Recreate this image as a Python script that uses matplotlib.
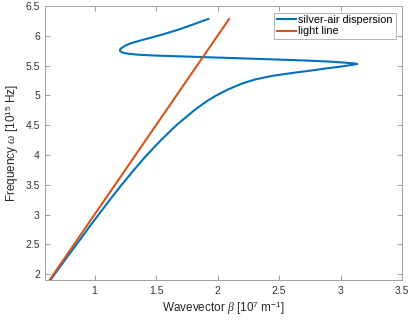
import matplotlib
matplotlib.use("Agg")
import matplotlib.pyplot as plt

plt.rcParams['font.family'] = ['Liberation Sans', 'DejaVu Sans']
plt.rcParams['mathtext.fontset'] = 'custom'
plt.rcParams['mathtext.rm'] = 'Liberation Sans'
plt.rcParams['mathtext.it'] = 'Liberation Serif:italic'

# silver-air dispersion, ordered along the curve
omega_spp = [1.885, 2.2, 2.5, 2.8, 3.0, 3.25, 3.5, 3.75, 4.0, 4.25, 4.5, 4.75,
             4.9, 5.0, 5.1, 5.2, 5.27, 5.33, 5.38, 5.42, 5.455, 5.48, 5.505,
             5.518, 5.527, 5.535, 5.55, 5.565, 5.58, 5.594, 5.611, 5.625, 5.638,
             5.65, 5.66, 5.67, 5.682, 5.70, 5.72, 5.745, 5.77, 5.80, 5.84,
             5.874, 5.92, 5.968, 6.03, 6.097, 6.16, 6.22, 6.283]
beta_spp = [0.635, 0.745, 0.853, 0.96, 1.033, 1.125, 1.22, 1.32, 1.425, 1.54,
            1.665, 1.81, 1.91, 1.99, 2.085, 2.2, 2.31, 2.45, 2.62, 2.77, 2.89,
            2.99, 3.07, 3.11, 3.135, 3.12, 3.03, 2.93, 2.78, 2.60, 2.35, 2.15,
            1.95, 1.78, 1.62, 1.48, 1.36, 1.27, 1.225, 1.207, 1.207, 1.222,
            1.255, 1.294, 1.37, 1.458, 1.565, 1.672, 1.76, 1.84, 1.925]

# light line
beta_light = [0.628, 2.094]
omega_light = [1.885, 6.283]

xticks = [1, 1.5, 2, 2.5, 3, 3.5]
xticklabels = ['1', '1.5', '2', '2.5', '3', '3.5']
yticks = [2, 2.5, 3, 3.5, 4, 4.5, 5, 5.5, 6, 6.5]
yticklabels = ['2', '2.5', '3', '3.5', '4', '4.5', '5', '5.5', '6', '6.5']

fig = plt.figure(figsize=(4.09, 3.25), dpi=100)
ax = fig.add_axes([0.111, 0.138, 0.872, 0.8435])

ax.plot(beta_spp, omega_spp, color='#0072BD', lw=1.5, label='silver-air dispersion',
        solid_joinstyle='round')
ax.plot(beta_light, omega_light, color='#D95319', lw=1.5, label='light line')

ax.set_xlim(0.6, 3.5)
ax.set_ylim(1.9, 6.5)
ax.set_xticks(xticks)
ax.set_xticklabels(xticklabels)
ax.set_yticks(yticks)
ax.set_yticklabels(yticklabels)

ax.tick_params(direction='in', length=3.5, width=0.6, colors='#8c8c8c',
               labelcolor='#333333', labelsize=7.5, top=True, right=True, pad=4)
for s in ax.spines.values():
    s.set_color('#a0a0a0')
    s.set_linewidth(0.7)

ax.set_xlabel(r'Wavevector $\it{\beta}$ [10$^{7}$ m$^{-1}$]', fontsize=8.5, color='#262626', labelpad=3)
ax.set_ylabel(r'Frequency $\it{\omega}$ [10$^{15}$ Hz]', fontsize=8.5, color='#262626', labelpad=3)

leg = ax.legend(loc='upper right', fontsize=7.8, frameon=True, fancybox=False,
                handlelength=1.8, handletextpad=0.2, borderpad=0.25, labelspacing=0.1,
                borderaxespad=0.6)
leg.get_frame().set_edgecolor('#a0a0a0')
leg.get_frame().set_linewidth(0.7)

fig.savefig('out.png', dpi=100)
